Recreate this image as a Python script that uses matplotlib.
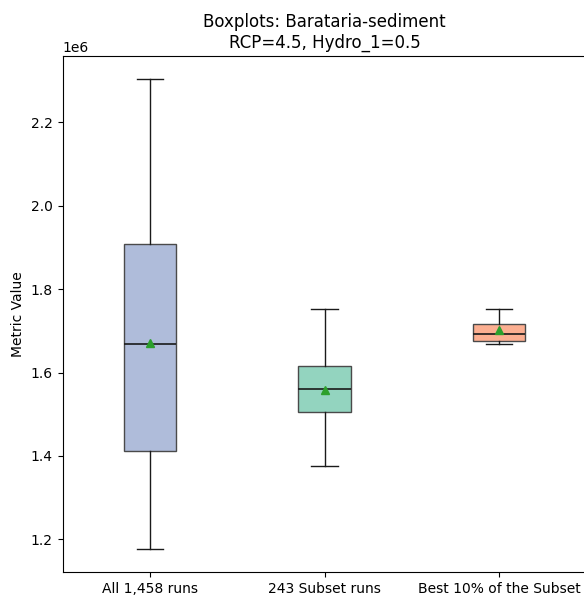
import matplotlib
matplotlib.use("Agg")
import matplotlib.pyplot as plt
from matplotlib.colors import to_rgba

labels = ["All 1,458 runs", "243 Subset runs", "Best 10% of the Subset"]
whislo = [1.178e6, 1.375e6, 1.668e6]
q1 = [1.411e6, 1.505e6, 1.675e6]
med = [1.668e6, 1.560e6, 1.692e6]
q3 = [1.908e6, 1.615e6, 1.716e6]
whishi = [2.303e6, 1.752e6, 1.752e6]
means = [1.670e6, 1.558e6, 1.703e6]
colors = ["#8da0cb", "#66c2a5", "#fc8d62"]

fig = plt.figure(figsize=(5.84, 5.96), dpi=100)
W, H = 584, 596
ax = fig.add_axes([62.5 / W, (H - 572) / H, 524 / W, 516 / H])

stats = []
for i in range(len(labels)):
    stats.append(dict(label=labels[i], whislo=whislo[i], q1=q1[i], med=med[i],
                      q3=q3[i], whishi=whishi[i], mean=means[i], fliers=[]))

bp = ax.bxp(stats, positions=[1, 2, 3], widths=0.3, patch_artist=True, showmeans=True,
            boxprops=dict(edgecolor="#4a4a4a", linewidth=1.0),
            medianprops=dict(color="#1a1a1a", linewidth=1.2),
            whiskerprops=dict(color="#1a1a1a", linewidth=1.0),
            capprops=dict(color="#1a1a1a", linewidth=1.0),
            meanprops=dict(marker="^", markerfacecolor="#2ca02c", markeredgecolor="#2ca02c", markersize=6))
for patch, c in zip(bp["boxes"], colors):
    patch.set_facecolor(to_rgba(c, 0.7))

ax.set_xlim(0.5, 3.5)
ax.set_ylabel("Metric Value")
ax.set_title("Boxplots: Barataria-sediment\nRCP=4.5, Hydro_1=0.5")

fig.savefig("out.png", dpi=100)
